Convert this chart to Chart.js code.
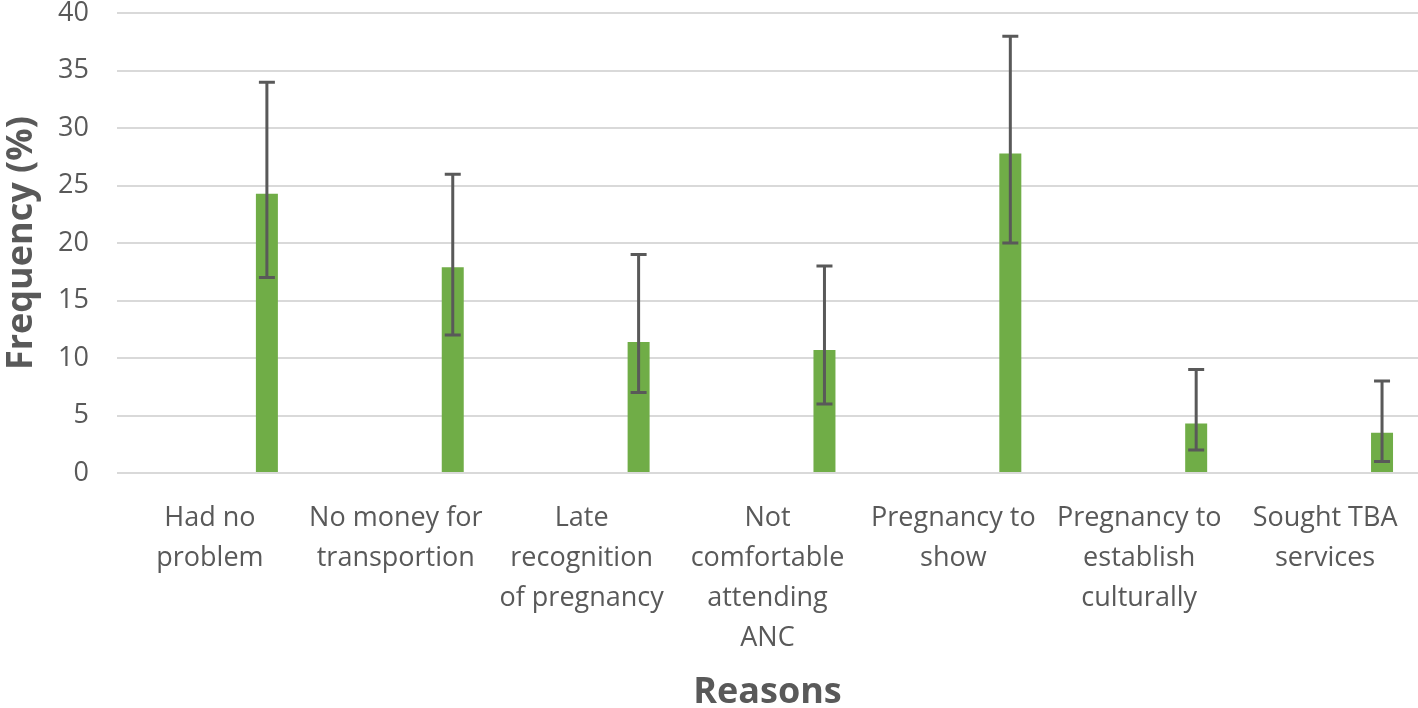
<!DOCTYPE html>
<html>
<head>
<meta charset="utf-8">
<script src="https://cdn.jsdelivr.net/npm/chart.js@4"></script>
<style>
    html, body { margin: 0; padding: 0; background: #fff; }
    #frame { width: 1418px; height: 708px; position: relative; overflow: hidden; }
    #wrap { width: 1418px; height: 739px; position: absolute; left: 0; top: -31px; }
</style>
</head>
<body>
<div id="frame"><div id="wrap"><canvas id="reasonsChart"></canvas></div></div>
<script>
const reasons = [
    ['Had no', 'problem'],
    ['No money for', 'transportion'],
    ['Late', 'recognition', 'of pregnancy'],
    ['Not', 'comfortable', 'attending', 'ANC'],
    ['Pregnancy to', 'show'],
    ['Pregnancy to', 'establish', 'culturally'],
    ['Sought TBA', 'services']
];
const frequency = [24.3, 17.9, 11.4, 10.7, 27.8, 4.3, 3.5];
const errorLow = [17, 12, 7, 6, 20, 2, 1];
const errorHigh = [34, 26, 19, 18, 38, 9, 8];
const emptySeries = [null, null, null, null, null, null, null];

const textColor = '#595959';
const fontFamily = "'Open Sans', sans-serif";

const errorBars = {
    id: 'errorBars',
    afterDatasetsDraw(chart) {
        const ctx = chart.ctx;
        const meta = chart.getDatasetMeta(1);
        const y = chart.scales.y;
        ctx.save();
        ctx.strokeStyle = '#595959';
        ctx.lineWidth = 3;
        meta.data.forEach((bar, i) => {
            const x = bar.x;
            const lo = y.getPixelForValue(errorLow[i]);
            const hi = y.getPixelForValue(errorHigh[i]);
            ctx.beginPath();
            ctx.moveTo(x, lo);
            ctx.lineTo(x, hi);
            ctx.moveTo(x - 8, lo);
            ctx.lineTo(x + 8, lo);
            ctx.moveTo(x - 8, hi);
            ctx.lineTo(x + 8, hi);
            ctx.stroke();
        });
        ctx.restore();
    }
};

new Chart(document.getElementById('reasonsChart'), {
    type: 'bar',
    data: {
        labels: reasons,
        datasets: [{
            label: '',
            data: emptySeries
        }, {
            label: 'Frequency',
            data: frequency,
            backgroundColor: '#70ad47'
        }]
    },
    options: {
        responsive: true,
        maintainAspectRatio: false,
        animation: false,
        categoryPercentage: 1.226,
        barPercentage: 0.193,
        layout: { padding: 0 },
        plugins: {
            legend: { display: false },
            tooltip: { enabled: false }
        },
        scales: {
            x: {
                grid: { display: false },
                border: { display: false },
                ticks: {
                    color: textColor,
                    font: { family: fontFamily, size: 27, lineHeight: 1.48 },
                    padding: 17,
                    maxRotation: 0,
                    autoSkip: false
                },
                title: {
                    display: true,
                    text: 'Reasons',
                    color: textColor,
                    font: { family: fontFamily, size: 36, weight: 'bold' },
                    padding: { top: 10, bottom: -6 }
                },
                afterFit(scale) { scale.height = 235; }
            },
            y: {
                min: 0,
                max: 40,
                ticks: {
                    stepSize: 5,
                    color: textColor,
                    font: { family: fontFamily, size: 27 },
                    padding: 28
                },
                grid: {
                    color: '#d9d9d9',
                    lineWidth: 2,
                    drawTicks: false
                },
                border: { display: false },
                title: {
                    display: true,
                    text: 'Frequency (%)',
                    color: textColor,
                    font: { family: fontFamily, size: 36, weight: 'bold' },
                    padding: { top: 0, bottom: 0 }
                },
                afterFit(scale) { scale.width = 117; }
            }
        }
    },
    plugins: [errorBars]
});
</script>
</body>
</html>
